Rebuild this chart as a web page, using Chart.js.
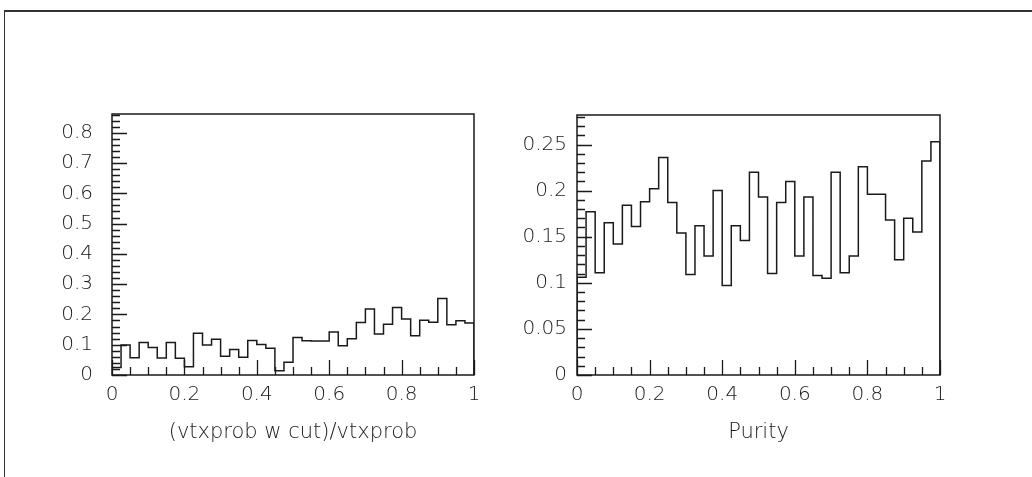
<!DOCTYPE html>
<html>
<head>
<meta charset="utf-8">
<script src="https://cdn.jsdelivr.net/npm/chart.js@4.4.0/dist/chart.umd.min.js"></script>
<style>
  html, body { margin: 0; padding: 0; background: #fff; }
  #page { position: relative; width: 1032px; height: 477px; overflow: hidden; }
  #frame { position: absolute; left: 4px; top: 10px; width: 1040px; height: 480px;
           border-top: 2px solid #333; border-left: 1.5px solid #333; }
  .panel { position: absolute; top: 0; width: 516px; height: 477px; }
</style>
</head>
<body>
<div id="page">
  <div id="frame"></div>
  <div class="panel" style="left:0"><canvas id="vtxChart" width="516" height="477"></canvas></div>
  <div class="panel" style="left:516px"><canvas id="purityChart" width="516" height="477"></canvas></div>
</div>
<script>
// histogram binning: 40 bins over [0, 1]
const binWidth = 0.025;

// left: (vtxprob w cut)/vtxprob
const vtxRatioValues = [
  0.025, 0.099, 0.057, 0.107, 0.091, 0.056, 0.107, 0.055, 0.027, 0.138,
  0.099, 0.118, 0.062, 0.084, 0.059, 0.114, 0.101, 0.088, 0.014, 0.042,
  0.124, 0.113, 0.112, 0.112, 0.142, 0.097, 0.120, 0.173, 0.218, 0.135,
  0.168, 0.223, 0.185, 0.130, 0.181, 0.174, 0.253, 0.166, 0.179, 0.172,
];

// right: Purity
const purityValues = [
  0.106, 0.177, 0.111, 0.165, 0.142, 0.184, 0.161, 0.188, 0.202, 0.236,
  0.187, 0.154, 0.109, 0.162, 0.129, 0.200, 0.097, 0.162, 0.146, 0.220,
  0.193, 0.110, 0.187, 0.210, 0.129, 0.193, 0.108, 0.105, 0.220, 0.111,
  0.129, 0.226, 0.196, 0.196, 0.168, 0.125, 0.170, 0.155, 0.232, 0.253,
];

const xTickLabels = ['0', '0.2', '0.4', '0.6', '0.8', '1'];
const vtxYTickLabels = ['0', '0.1', '0.2', '0.3', '0.4', '0.5', '0.6', '0.7', '0.8'];
const purityYTickLabels = ['0', '0.05', '0.1', '0.15', '0.2', '0.25'];

const ink = '#1a1a1a';
const tickFont = { family: 'DejaVu Sans', size: 20, weight: 200 };
const titleFont = { family: 'DejaVu Sans', size: 21, weight: 200 };

// step outline points: one point per bin low edge, closed down to zero at both ends
function histPoints(values) {
  const pts = [{ x: 0, y: 0 }];
  values.forEach((v, i) => pts.push({ x: i * binWidth, y: v }));
  pts.push({ x: values.length * binWidth, y: values[values.length - 1] });
  pts.push({ x: values.length * binWidth, y: 0 });
  return pts;
}

// frame box plus inward major/minor ticks (PAW style)
const frameTicks = {
  id: 'frameTicks',
  afterDatasetsDraw(chart, args, opts) {
    const { ctx, chartArea: a, scales: { x, y } } = chart;
    ctx.save();
    ctx.strokeStyle = ink;
    ctx.lineWidth = 1.3;
    ctx.beginPath();
    for (let i = 0; i * opts.xMinor <= 1 + 1e-9; i++) {
      const v = i * opts.xMinor;
      const r = v / opts.xMajor;
      const len = Math.abs(r - Math.round(r)) < 1e-6 ? 15 : 8;
      const px = Math.round(x.getPixelForValue(v)) + 0.5;
      ctx.moveTo(px, a.bottom);
      ctx.lineTo(px, a.bottom - len);
    }
    for (let i = 0; i * opts.yMinor <= y.max + 1e-9; i++) {
      const v = i * opts.yMinor;
      const r = v / opts.yMajor;
      const len = Math.abs(r - Math.round(r)) < 1e-6 ? 15 : 8;
      const py = Math.round(y.getPixelForValue(v)) + 0.5;
      ctx.moveTo(a.left, py);
      ctx.lineTo(a.left + len, py);
    }
    ctx.stroke();
    ctx.lineWidth = 1.5;
    ctx.strokeRect(a.left, a.top, a.width, a.height);
    ctx.restore();
  },
};

function makeHist(canvasId, values, cfg) {
  return new Chart(document.getElementById(canvasId), {
    type: 'line',
    data: {
      datasets: [{
        data: histPoints(values),
        stepped: 'before',
        borderColor: ink,
        borderWidth: 1.5,
        pointRadius: 0,
        fill: false,
      }],
    },
    options: {
      responsive: false,
      animation: false,
      events: [],
      layout: { padding: cfg.padding },
      plugins: {
        legend: { display: false },
        tooltip: { enabled: false },
        frameTicks: { xMinor: 0.05, xMajor: 0.2, yMinor: cfg.yMinor, yMajor: cfg.yMajor },
      },
      scales: {
        x: {
          type: 'linear',
          min: 0,
          max: 1,
          afterFit: (s) => { s.height = 102; },
          grid: { display: false, drawTicks: false },
          border: { display: false },
          ticks: {
            stepSize: 0.2,
            padding: 8,
            color: ink,
            font: tickFont,
            maxRotation: 0,
            callback: (v, i) => xTickLabels[i],
          },
          title: {
            display: true,
            text: cfg.title,
            color: ink,
            font: titleFont,
            padding: { top: 0, bottom: 32 },
          },
        },
        y: {
          min: 0,
          max: cfg.yMax,
          afterFit: (s) => { s.width = cfg.yWidth; },
          grid: { display: false, drawTicks: false },
          border: { display: false },
          ticks: {
            stepSize: cfg.yMajor,
            includeBounds: false,
            padding: cfg.yPad,
            color: ink,
            font: tickFont,
            callback: (v, i) => cfg.yLabels[i],
          },
        },
      },
    },
    plugins: [frameTicks],
  });
}

makeHist('vtxChart', vtxRatioValues, {
  title: '(vtxprob w cut)/vtxprob',
  yMax: 0.862, yMajor: 0.1, yMinor: 0.02, yLabels: vtxYTickLabels,
  yWidth: 112, yPad: 19,
  padding: { left: 0, top: 114, right: 42, bottom: 0 },
});

makeHist('purityChart', purityValues, {
  title: 'Purity',
  yMax: 0.282, yMajor: 0.05, yMinor: 0.01, yLabels: purityYTickLabels,
  yWidth: 61, yPad: 10,
  padding: { left: 0, top: 115, right: 92, bottom: 0 },
});
</script>
</body>
</html>
